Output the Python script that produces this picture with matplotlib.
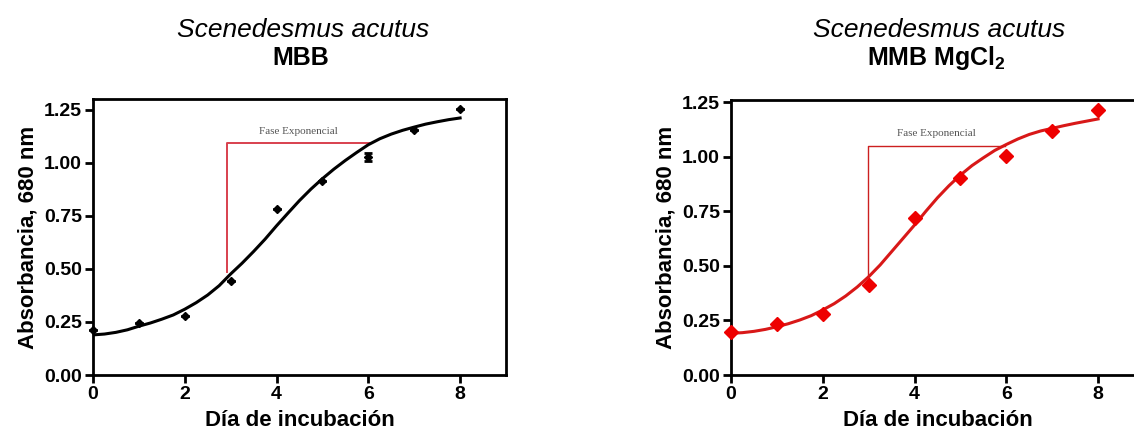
import numpy as np
import matplotlib
matplotlib.use("Agg")
import matplotlib.pyplot as plt

plt.rcParams['font.family'] = ['Liberation Sans', 'DejaVu Sans']
plt.rcParams['mathtext.fontset'] = 'custom'
plt.rcParams['mathtext.bf'] = 'Liberation Sans:bold'
plt.rcParams['mathtext.rm'] = 'Liberation Sans:bold'

# measured points (day of incubation vs absorbance)
dias = [0, 1, 2, 3, 4, 5, 6, 7, 8]
abs_mbb = [0.212, 0.244, 0.278, 0.445, 0.781, 0.915, 1.027, 1.156, 1.253]
err_mbb = [0, 0, 0, 0, 0, 0, 0.02, 0, 0]
abs_mgcl = [0.195, 0.235, 0.278, 0.412, 0.718, 0.901, 1.003, 1.118, 1.215]

# fitted curves, every quarter day
dias_fit = [0, 0.25, 0.5, 0.75, 1, 1.25, 1.5, 1.75, 2, 2.25, 2.5, 2.75, 3, 3.25, 3.5, 3.75,
            4, 4.25, 4.5, 4.75, 5, 5.25, 5.5, 5.75, 6, 6.25, 6.5, 6.75, 7, 7.25, 7.5, 7.75, 8]
fit_mbb = [0.189, 0.193, 0.201, 0.213, 0.230, 0.245, 0.263, 0.283, 0.310, 0.341, 0.377,
           0.421, 0.476, 0.527, 0.582, 0.640, 0.703, 0.763, 0.822, 0.876, 0.925, 0.970,
           1.011, 1.049, 1.085, 1.113, 1.135, 1.153, 1.168, 1.182, 1.193, 1.203, 1.211]
fit_mgcl = [0.191, 0.194, 0.200, 0.209, 0.221, 0.235, 0.252, 0.272, 0.298, 0.327, 0.362,
            0.403, 0.450, 0.504, 0.565, 0.626, 0.687, 0.751, 0.812, 0.867, 0.916, 0.959,
            0.995, 1.029, 1.056, 1.081, 1.102, 1.118, 1.130, 1.142, 1.153, 1.163, 1.173]

# "Fase Exponencial" bracket: start day, end day, bottom, top
fase_mbb = [2.93, 6.05, 0.487, 1.093]
fase_mgcl = [2.99, 5.97, 0.458, 1.050]


def estilo(ax, ymax):
    ax.set_xlim(0, 9)
    ax.set_ylim(0, ymax)
    ax.set_xticks([0, 2, 4, 6, 8])
    ax.set_yticks([0, 0.25, 0.5, 0.75, 1.0, 1.25])
    ax.set_yticklabels(['0.00', '0.25', '0.50', '0.75', '1.00', '1.25'])
    for s in ax.spines.values():
        s.set_linewidth(2)
    ax.tick_params(direction='out', length=6, width=2, labelsize=14, pad=2)
    for lab in ax.get_xticklabels() + ax.get_yticklabels():
        lab.set_fontweight('bold')
    ax.set_xlabel('Día de incubación', fontsize=16, fontweight='bold', labelpad=5)
    ax.set_ylabel('Absorbancia, 680 nm', fontsize=16, fontweight='bold', labelpad=4)


fig = plt.figure(figsize=(11.34, 4.38), dpi=100)

ax1 = fig.add_axes([0.0820, 0.1438, 0.3642, 0.630])
f = fase_mbb
ax1.plot([f[0], f[0], f[1]], [f[2], f[3], f[3]], color='#d8404e', lw=1.4, zorder=1)
ax1.text((f[0] + f[1]) / 2 - 0.02, f[3] + 0.035, 'Fase Exponencial', family='Liberation Serif',
         fontsize=8, color='#555555', ha='center', va='bottom')
ax1.plot(dias_fit, fit_mbb, color='black', lw=2.2, zorder=2)
ax1.errorbar(dias, abs_mbb, yerr=err_mbb, fmt='D', color='black', ms=4,
             capsize=3, elinewidth=2, capthick=2, zorder=3, clip_on=False)
estilo(ax1, 1.30)

ax2 = fig.add_axes([0.6446, 0.1438, 0.3642, 0.628])
f = fase_mgcl
ax2.plot([f[0], f[0], f[1]], [f[2], f[3], f[3]], color='#cc2020', lw=1.0, zorder=1)
ax2.text((f[0] + f[1]) / 2, f[3] + 0.035, 'Fase Exponencial', family='Liberation Serif',
         fontsize=8, color='#555555', ha='center', va='bottom')
ax2.plot(dias_fit, fit_mgcl, color='#d81818', lw=2.2, zorder=2)
ax2.plot(dias, abs_mgcl, 'D', color='#ee0000', ms=7, zorder=3, clip_on=False)
estilo(ax2, 1.26)

fig.text(0.267, 0.9315, 'Scenedesmus acutus', fontsize=19, style='italic', ha='center', va='center')
fig.text(0.265, 0.8676, 'MBB', fontsize=18, fontweight='bold', ha='center', va='center')
fig.text(0.828, 0.9315, 'Scenedesmus acutus', fontsize=19, style='italic', ha='center', va='center')
fig.text(0.826, 0.8676, r'MMB MgCl$_\mathbf{2}$', fontsize=18, fontweight='bold', ha='center', va='center')

fig.savefig('out.png', dpi=100)
